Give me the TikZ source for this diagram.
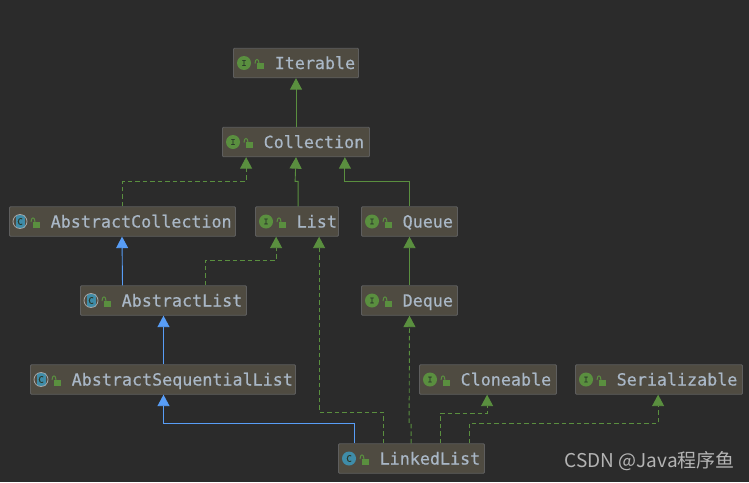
\documentclass[tikz,border=0pt]{standalone}
\usepackage{fontspec}
\setmonofont[FakeBold=0.5]{DejaVu Sans Mono}
\newfontfamily\cjkfont{Noto Sans CJK SC}
\usetikzlibrary{arrows.meta,calc}
\definecolor{bgc}{HTML}{2B2B2B}
\definecolor{boxc}{HTML}{4F4B41}
\definecolor{edgec}{HTML}{5E5E5E}
\definecolor{txtc}{HTML}{A9B7C6}
\definecolor{grn}{HTML}{5A8F3F}
\definecolor{blu}{HTML}{589DF6}
\definecolor{teal}{HTML}{3F8CA8}
\definecolor{markc}{HTML}{2B3A2B}
\definecolor{wm}{HTML}{B4B4B4}
\tikzset{
 x=1pt,y=-1pt,
 umlbox/.style={draw=edgec,fill=boxc,line width=0.8pt,rounded corners=1pt,inner sep=0pt,minimum height=29.5pt},
 lab/.style={text=txtc,inner sep=0pt,anchor=base west,font=\ttfamily\fontsize{16.7}{18}\selectfont},
 tipg/.style={-{Triangle[length=11.5pt,width=12pt,fill=grn,color=grn]}},
 tipb/.style={-{Triangle[length=11.5pt,width=12pt,fill=blu,color=blu]}},
 impl/.style={draw=grn,line width=0.9pt,tipg,dash pattern=on 4.5pt off 3pt},
 ext/.style={draw=grn,line width=0.9pt,tipg},
 exb/.style={draw=blu,line width=0.9pt,tipb},
}
% name, left, top, right, bottom, kind, text
\newcommand{\umlnode}[7]{%
 \node[umlbox,minimum width=#4pt-#2pt] (#1) at ({(#2+#4)/2+.5},{(#3+#5)/2+.5}) {};
 \def\knd{#6}\def\kI{I}\def\kC{C}%
 \ifx\knd\kI
  \fill[grn] (#2+11,{(#3+#5)/2+.5}) circle (7pt);
  \node[text=markc,inner sep=0pt,font=\ttfamily\fontsize{8}{8}\selectfont] (#1icon) at (#2+11,{(#3+#5)/2+.5}) {I};
 \else\ifx\knd\kC
  \fill[teal] (#2+11,{(#3+#5)/2+.5}) circle (7pt);
  \node[text=markc,inner sep=0pt,font=\ttfamily\fontsize{9}{9}\selectfont] (#1icon) at (#2+11,{(#3+#5)/2+.5}) {C};
 \else
  \fill[teal] (#2+7,{(#3+#5)/2-6}) rectangle (#2+16,{(#3+#5)/2+7});
  \draw[gray!70,line width=0.8pt] (#2+11,{(#3+#5)/2+.5}) circle (7pt);
  \node[text=markc,inner sep=0pt,font=\ttfamily\fontsize{9}{9}\selectfont] (#1icon) at (#2+11,{(#3+#5)/2+.5}) {C};
 \fi\fi
 \fill[grn] (#2+23.5,{(#3+#5)/2+0.5}) rectangle (#2+30.5,{(#3+#5)/2+6.5});
 \draw[grn,line width=1pt] (#2+26,{(#3+#5)/2+1}) .. controls (#2+26,{(#3+#5)/2-4.5}) and (#2+22,{(#3+#5)/2-4.5}) .. (#2+22,{(#3+#5)/2+1});
 \node[lab] (#1text) at (#2+41.5,{(#3+#5)/2+6.5}) {#7};
}
\begin{document}
\begin{tikzpicture}
\useasboundingbox (0,0) rectangle (749,482);
\fill[bgc] (0,0) rectangle (749,482);
\umlnode{iter}{233}{48}{358}{77}{I}{Iterable}
\umlnode{coll}{222}{127}{369}{156}{I}{Collection}
\umlnode{acoll}{9}{206}{235}{236}{A}{AbstractCollection}
\umlnode{list}{255}{206}{338}{236}{I}{List}
\umlnode{queue}{361}{206}{457}{236}{I}{Queue}
\umlnode{alist}{80}{285}{246}{315}{A}{AbstractList}
\umlnode{deque}{361}{285}{457}{315}{I}{Deque}
\umlnode{aseq}{30}{364}{295}{394}{A}{AbstractSequentialList}
\umlnode{clone}{419}{364}{556}{394}{I}{Cloneable}
\umlnode{ser}{575}{364}{742}{394}{I}{Serializable}
\umlnode{ll}{338}{443}{484}{473}{C}{LinkedList}
\draw[ext] (coll.north) -- (iter.south);
\draw[impl] (acoll.north) -- ++(0,-25) -| ([xshift=24pt]coll.south west);
\draw[ext] ([xshift=43pt]list.north west) -- ++(0,-25) -- ++(-3,0) -- (coll.south);
\draw[ext] (queue.north) -- ++(0,-25) -| ([xshift=-25pt]coll.south east);
\draw[exb] ([xshift=-41pt]alist.north) -- (acoll.south -| {122,0});
\draw[impl] ([xshift=125pt]alist.north west) -- ++(0,-25) -| ([xshift=21pt]list.south west);
\draw[ext] (deque.north) -- (queue.south);
\draw[exb] (aseq.north -| alist.south) -- (alist.south);
\draw[exb] ([xshift=16pt]ll.north west) -- ++(0,-20) -| (aseq.south -| alist.south);
\draw[impl] ([xshift=45pt]ll.north west) -- ++(0,-31) -| ([xshift=64pt]list.south west);
\draw[impl] ([xshift=73pt]ll.north west) -- ++(0,-20) -- ++(-2,0) -- (deque.south);
\draw[impl] ([xshift=102pt]ll.north west) -- ++(0,-30) -| ([xshift=68pt]clone.south west);
\draw[impl] ([xshift=131pt]ll.north west) -- ++(0,-20) -| ([xshift=83pt]ser.south west);
\node[text=wm,anchor=base west,inner sep=0pt,font=\cjkfont\fontsize{19}{20}\selectfont] (mark) at (564.5,467) {CSDN @Java程序鱼};
\end{tikzpicture}
\end{document}
